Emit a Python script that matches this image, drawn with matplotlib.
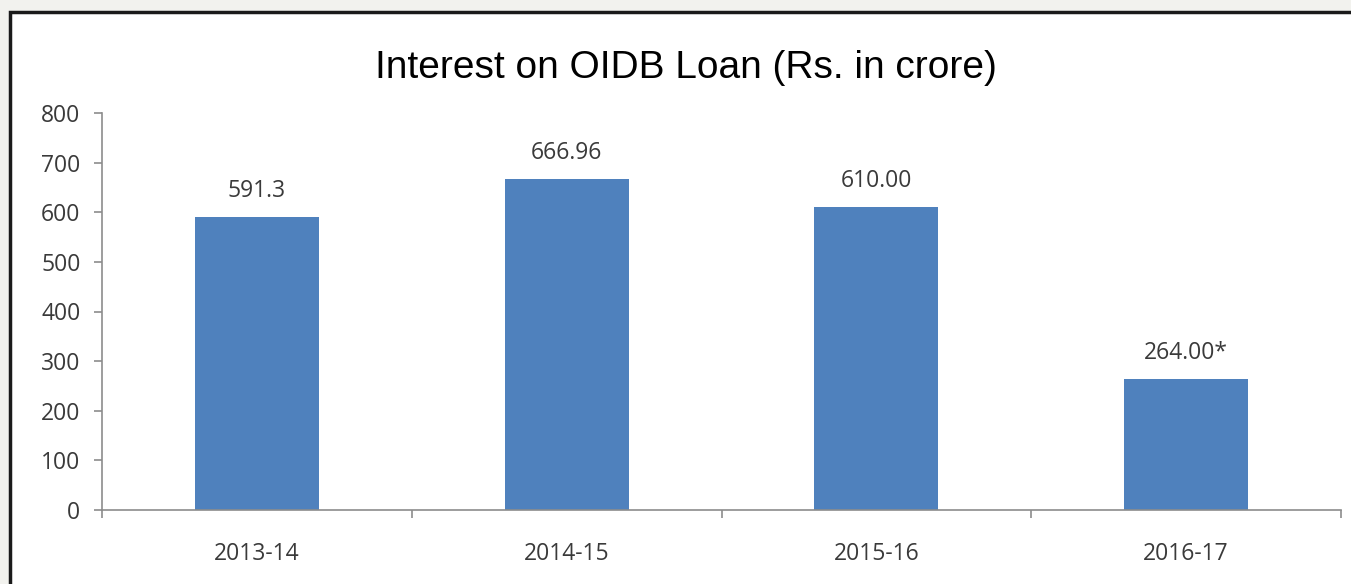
import matplotlib
matplotlib.use("Agg")
import matplotlib.pyplot as plt
from matplotlib.patches import Rectangle
import numpy as np

categories = ["2013-14", "2014-15", "2015-16", "2016-17"]
values = [591.3, 666.96, 610.00, 264.00]
value_labels = ["591.3", "666.96", "610.00", "264.00*"]
yticks = [0, 100, 200, 300, 400, 500, 600, 700, 800]
title = "Interest on OIDB Loan (Rs. in crore)"

W, H = 1351, 584
fig = plt.figure(figsize=(W / 100, H / 100), dpi=100)
fig.patch.set_facecolor("#f2f2ee")

# white chart area with dark frame (extends past right/bottom edges)
fig.patches.append(Rectangle((10 / W, -0.05), 1.1, (H - 12) / H + 0.05,
                             transform=fig.transFigure, facecolor="white",
                             edgecolor="#1a1a1a", linewidth=2.5, zorder=-5))

ax = fig.add_axes([102 / W, 1 - 510 / H, (1341 - 102) / W, (510 - 113) / H])
ax.set_facecolor("none")
ax.set_zorder(2)

FS = 16.5
TC = "#3a3a3a"
x = np.arange(len(categories))
ax.bar(x, values, width=0.4, color="#4f81bd", zorder=2)
for xi, v, lab in zip(x, values, value_labels):
    ax.annotate(lab, (xi, v), xytext=(0, 10), textcoords="offset points",
                ha="center", va="bottom", fontsize=FS, color=TC,
                family="Open Sans")

ax.set_xlim(-0.5, len(categories) - 0.5)
ax.set_ylim(0, 800)
ax.set_yticks(yticks)
ax.set_yticklabels([str(t) for t in yticks], fontsize=FS, color=TC, family="Open Sans")
ax.set_xticks(x)
ax.set_xticklabels(categories, fontsize=FS, color=TC, family="Open Sans")
ax.set_xticks(np.arange(len(categories) + 1) - 0.5, minor=True)

for s in ["top", "right"]:
    ax.spines[s].set_visible(False)
for s in ["left", "bottom"]:
    ax.spines[s].set_color("#8c8c8c")
    ax.spines[s].set_linewidth(1.2)

ax.tick_params(axis="y", length=5.5, width=1.2, color="#8c8c8c", pad=10, direction="out")
ax.tick_params(axis="x", which="major", length=0, pad=23)
ax.tick_params(axis="x", which="minor", length=6, width=1.2, color="#8c8c8c", direction="out")

fig.text(686 / W, 1 - 68 / H, title, ha="center", va="center", fontsize=28,
         family="Liberation Sans", color="black")

fig.savefig("out.png", dpi=100, facecolor=fig.get_facecolor())
